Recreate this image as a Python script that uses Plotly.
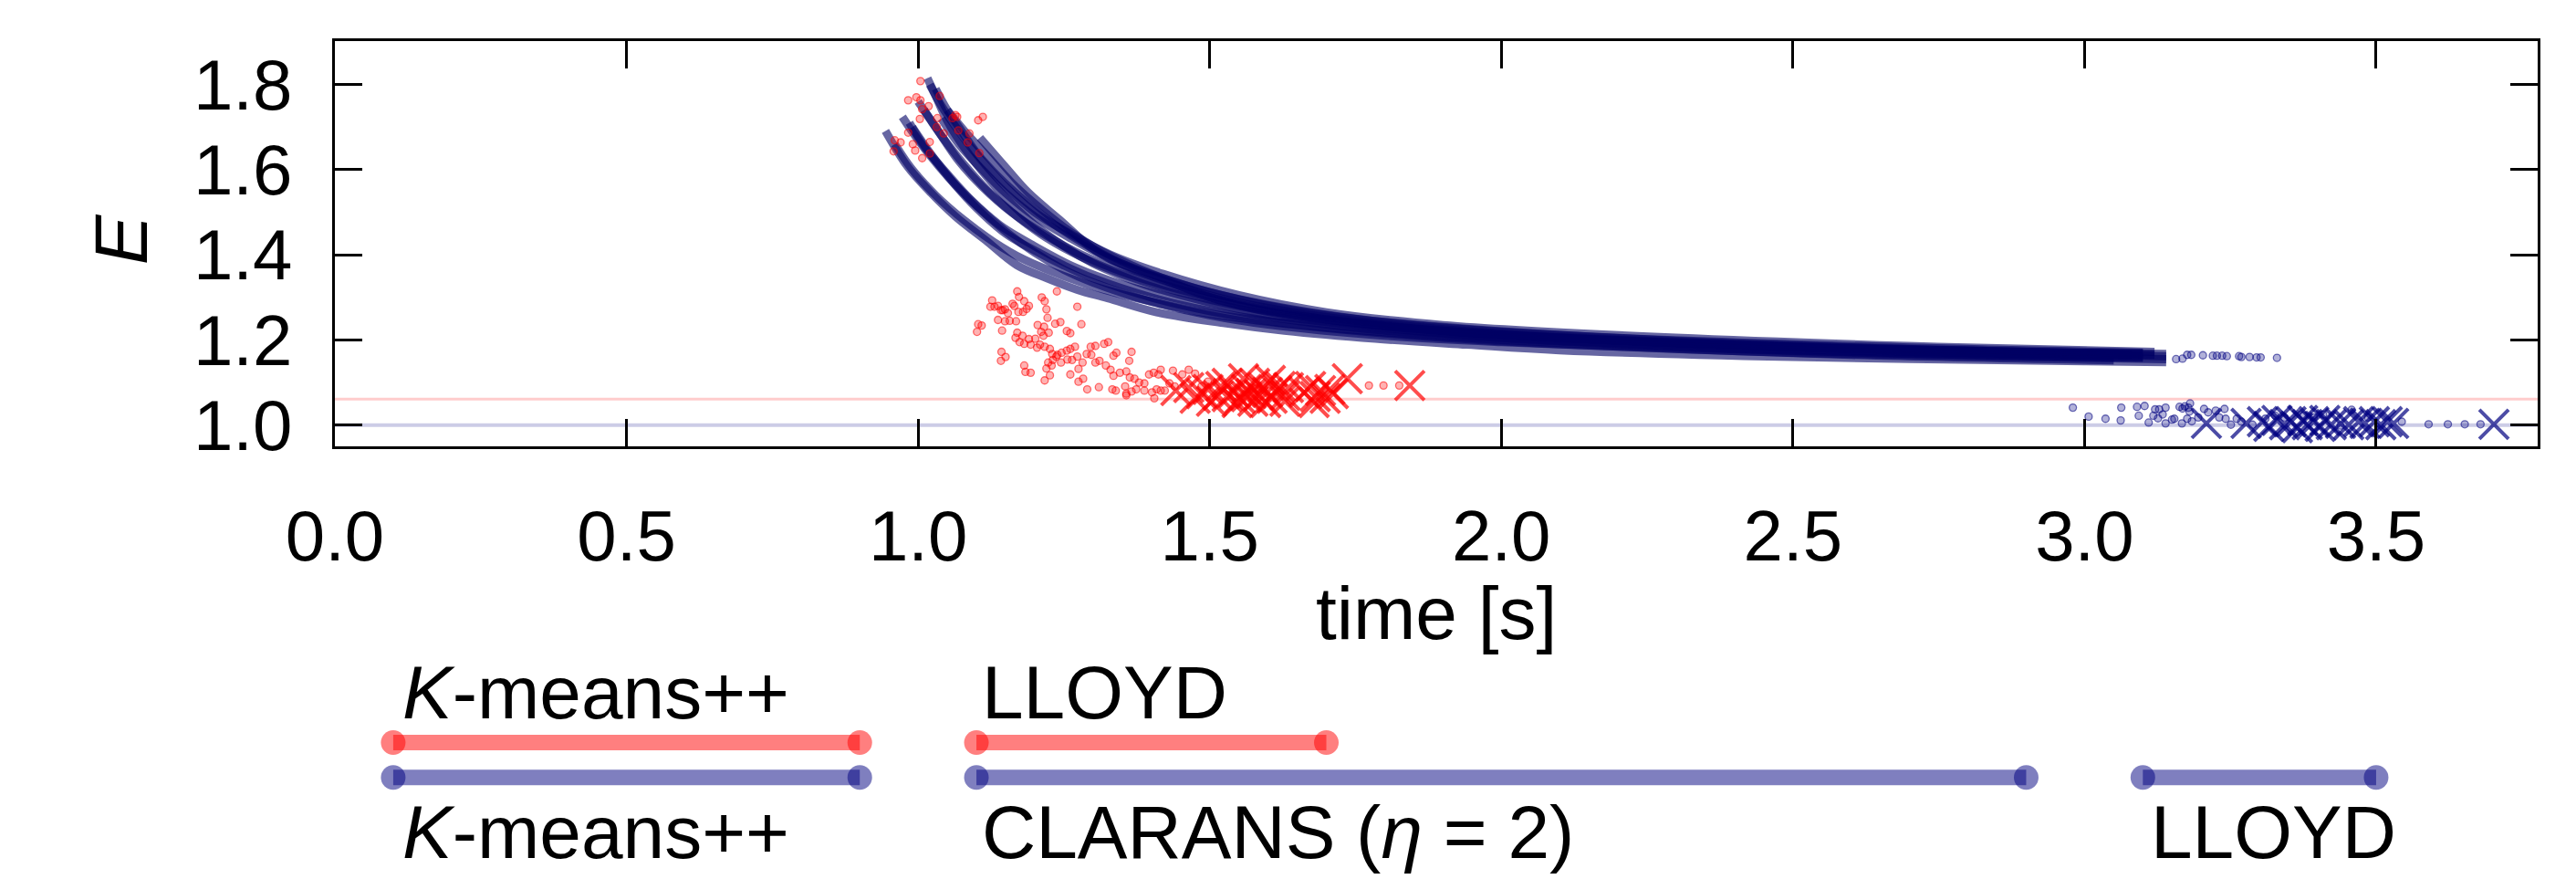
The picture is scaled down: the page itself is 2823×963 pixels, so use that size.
import plotly.graph_objects as go

# ---------------- data ----------------
x_ticks = [0.0, 0.5, 1.0, 1.5, 2.0, 2.5, 3.0, 3.5]
y_ticks = [1.0, 1.2, 1.4, 1.6, 1.8]

# CLARANS trajectories (navy)
navy_strands_x = [
    [0.944, 0.981, 1.012, 1.064, 1.116, 1.169, 1.221, 1.273, 1.325, 1.409, 1.523, 1.628, 1.784, 1.941, 2.10, 2.50, 3.00, 3.14],
    [0.973, 1.00, 1.05, 1.10, 1.15, 1.20, 1.25, 1.30, 1.40, 1.50, 1.60, 1.80, 2.00, 2.50, 3.00, 3.14],
    [1.016, 1.029, 1.05, 1.08, 1.12, 1.16, 1.20, 1.25, 1.30, 1.35, 1.40, 1.50, 1.60, 1.80, 2.00, 2.50, 3.00, 3.14],
    [1.106, 1.148, 1.189, 1.242, 1.304, 1.367, 1.419, 1.471, 1.523, 1.628, 1.784, 1.941, 2.10, 2.50, 3.00, 3.14],
    [0.99, 1.02, 1.06, 1.10, 1.15, 1.20, 1.25, 1.30, 1.40, 1.50, 1.60, 1.80, 2.00, 2.50, 3.00, 3.10],
    [1.01, 1.04, 1.08, 1.12, 1.17, 1.22, 1.28, 1.35, 1.45, 1.55, 1.70, 1.90, 2.20, 2.60, 3.05],
    [1.05, 1.08, 1.12, 1.16, 1.20, 1.25, 1.30, 1.35, 1.42, 1.50, 1.60, 1.75, 1.95, 2.30, 2.80, 3.10],
    [0.96, 0.99, 1.03, 1.08, 1.13, 1.18, 1.25, 1.32, 1.40, 1.50, 1.65, 1.85, 2.10, 2.60, 3.05],
    [1.03, 1.05, 1.07, 1.10, 1.14, 1.18, 1.23, 1.28, 1.34, 1.40, 1.50, 1.60, 1.75, 2.00, 2.40, 2.90, 3.12],
    [1.00, 1.03, 1.07, 1.11, 1.16, 1.22, 1.28, 1.35, 1.45, 1.60, 1.80, 2.10, 2.60, 3.08],
    [0.985, 1.01, 1.05, 1.09, 1.14, 1.20, 1.27, 1.35, 1.45, 1.60, 1.80, 2.10, 2.60, 3.10],
    [1.04, 1.07, 1.11, 1.15, 1.20, 1.26, 1.33, 1.42, 1.52, 1.65, 1.85, 2.15, 2.70, 3.10],
    [1.02, 1.04, 1.07, 1.11, 1.15, 1.20, 1.26, 1.33, 1.42, 1.55, 1.70, 1.90, 2.30, 2.80, 3.12],
]
navy_strands_y = [
    [1.691, 1.609, 1.560, 1.490, 1.434, 1.376, 1.345, 1.318, 1.298, 1.265, 1.240, 1.222, 1.203, 1.189, 1.176, 1.160, 1.150, 1.148],
    [1.724, 1.670, 1.585, 1.515, 1.455, 1.405, 1.365, 1.335, 1.290, 1.258, 1.236, 1.210, 1.195, 1.170, 1.158, 1.155],
    [1.815, 1.777, 1.715, 1.650, 1.580, 1.520, 1.470, 1.420, 1.380, 1.350, 1.325, 1.288, 1.260, 1.228, 1.205, 1.178, 1.165, 1.162],
    [1.675, 1.609, 1.546, 1.483, 1.410, 1.366, 1.343, 1.315, 1.291, 1.259, 1.235, 1.217, 1.205, 1.183, 1.170, 1.167],
    [1.700, 1.640, 1.570, 1.510, 1.450, 1.410, 1.375, 1.345, 1.300, 1.268, 1.245, 1.218, 1.200, 1.174, 1.160, 1.158],
    [1.740, 1.680, 1.610, 1.550, 1.490, 1.440, 1.395, 1.355, 1.312, 1.280, 1.248, 1.222, 1.198, 1.178, 1.166],
    [1.740, 1.690, 1.630, 1.570, 1.520, 1.465, 1.420, 1.385, 1.345, 1.312, 1.282, 1.250, 1.225, 1.198, 1.175, 1.168],
    [1.660, 1.600, 1.540, 1.480, 1.430, 1.390, 1.350, 1.318, 1.290, 1.262, 1.235, 1.210, 1.190, 1.165, 1.152],
    [1.790, 1.740, 1.700, 1.640, 1.580, 1.530, 1.475, 1.430, 1.385, 1.350, 1.305, 1.275, 1.245, 1.215, 1.190, 1.172, 1.165],
    [1.760, 1.700, 1.620, 1.560, 1.500, 1.445, 1.400, 1.360, 1.318, 1.270, 1.232, 1.205, 1.180, 1.165],
    [1.710, 1.655, 1.590, 1.530, 1.470, 1.420, 1.370, 1.330, 1.295, 1.255, 1.222, 1.196, 1.172, 1.160],
    [1.720, 1.660, 1.600, 1.545, 1.490, 1.440, 1.390, 1.345, 1.305, 1.268, 1.235, 1.208, 1.182, 1.170],
    [1.800, 1.750, 1.690, 1.620, 1.560, 1.500, 1.450, 1.400, 1.355, 1.305, 1.265, 1.235, 1.205, 1.182, 1.172],
]

# sparse tail of the CLARANS runs
navy_tail_x = [3.157, 3.168, 3.176, 3.183, 3.203, 3.220, 3.227, 3.236, 3.244, 3.265, 3.269, 3.283, 3.295, 3.302, 3.330]
navy_tail_y = [1.155, 1.156, 1.165, 1.165, 1.164, 1.163, 1.163, 1.163, 1.162, 1.162, 1.160, 1.160, 1.159, 1.159, 1.158]

# LLOYD after CLARANS (navy dots)
navy_lloyd_x = [2.980, 3.007, 3.036, 3.063, 3.062, 3.090, 3.103, 3.093, 3.110, 3.121, 3.128, 3.139, 3.118, 3.126,
                3.134, 3.139, 3.150, 3.154, 3.163, 3.168, 3.172, 3.178, 3.180, 3.181, 3.167, 3.176, 3.184, 3.195,
                3.205, 3.212, 3.225, 3.240, 3.231, 3.242, 3.251, 3.261, 3.269, 3.288, 3.310, 3.327, 3.343, 3.376,
                3.393, 3.409, 3.458, 3.439, 3.486, 3.544, 3.590, 3.623, 3.652, 3.679]
navy_lloyd_y = [1.041, 1.020, 1.015, 1.041, 1.011, 1.043, 1.045, 1.022, 1.006, 1.037, 1.037, 1.041, 1.022, 1.016,
                1.025, 1.004, 1.013, 1.015, 1.043, 1.039, 1.044, 1.041, 1.032, 1.051, 1.004, 1.015, 1.009, 1.018,
                1.038, 1.030, 1.034, 1.038, 1.018, 1.015, 1.001, 1.015, 1.008, 1.001, 1.015, 1.022, 1.018, 1.022,
                1.018, 1.025, 1.036, 0.999, 1.018, 1.008, 1.002, 1.002, 1.002, 1.002]

# final results (navy crosses)
navy_final_x = [3.209, 3.277, 3.305, 3.316, 3.330, 3.343, 3.354, 3.365, 3.374, 3.382, 3.393, 3.404, 3.412, 3.423,
                3.439, 3.453, 3.470, 3.481, 3.497, 3.508, 3.519, 3.530, 3.702]
navy_final_y = [1.004, 1.004, 1.008, 0.997, 1.011, 1.001, 1.008, 0.994, 1.011, 1.001, 1.008, 0.997, 1.011, 1.001,
                1.004, 1.001, 1.008, 1.004, 1.008, 1.001, 1.008, 1.004, 1.002]

# LLOYD after K-means++ (red dots)
red_dots_x = [1.004, 0.983, 0.997, 1.004, 1.037, 1.018, 1.007, 1.064, 1.059, 1.067, 1.111, 1.103, 1.003, 1.033, 0.983,
              0.960, 0.970, 0.958, 0.991, 0.995, 1.020, 1.007, 1.088, 1.085, 1.105, 1.069, 1.032, 1.044, 1.020,
              1.101, 1.103, 1.109, 1.127, 1.124, 1.131, 1.137, 1.142, 1.145, 1.149, 1.154, 1.162, 1.165, 1.170,
              1.173, 1.182, 1.190, 1.180, 1.172, 1.186, 1.137, 1.149, 1.157, 1.168, 1.144, 1.170, 1.179, 1.167,
              1.174, 1.182, 1.190, 1.193, 1.201, 1.204, 1.212, 1.217, 1.220, 1.222, 1.216, 1.211, 1.215, 1.224,
              1.205, 1.209, 1.217, 1.226, 1.230, 1.237, 1.223, 1.220, 1.231, 1.239, 1.246, 1.255, 1.261, 1.269,
              1.238, 1.235, 1.244, 1.255, 1.261, 1.273, 1.280, 1.143, 1.150, 1.142, 1.182, 1.184, 1.193, 1.217,
              1.226, 1.229, 1.245, 1.256, 1.264, 1.273, 1.282, 1.289, 1.297, 1.304, 1.311, 1.296, 1.304, 1.319,
              1.326, 1.335, 1.340, 1.366, 1.362, 1.322, 1.330, 1.335, 1.346, 1.357, 1.363, 1.371, 1.379, 1.275,
              1.261, 1.275, 1.283, 1.290, 1.310, 1.333, 1.339, 1.355, 1.357, 1.366, 1.374, 1.388, 1.396, 1.404,
              1.412, 1.416, 1.437, 1.388, 1.401, 1.409, 1.416, 1.423, 1.431, 1.440, 1.453, 1.464, 1.475, 1.486,
              1.497, 1.773, 1.798, 1.825, 1.405, 1.357]
red_dots_y = [1.808, 1.763, 1.770, 1.763, 1.773, 1.749, 1.742, 1.728, 1.721, 1.724, 1.724, 1.716, 1.719, 1.721, 1.687,
              1.669, 1.664, 1.643, 1.660, 1.645, 1.638, 1.627, 1.685, 1.664, 1.639, 1.692, 1.700, 1.685, 1.665,
              1.219, 1.237, 1.234, 1.293, 1.278, 1.278, 1.280, 1.270, 1.270, 1.272, 1.263, 1.285, 1.280, 1.314,
              1.301, 1.291, 1.280, 1.266, 1.266, 1.273, 1.247, 1.244, 1.245, 1.244, 1.222, 1.217, 1.210, 1.205,
              1.195, 1.191, 1.202, 1.189, 1.203, 1.182, 1.300, 1.291, 1.272, 1.252, 1.231, 1.219, 1.210, 1.217,
              1.235, 1.189, 1.184, 1.179, 1.167, 1.161, 1.147, 1.133, 1.153, 1.165, 1.170, 1.175, 1.179, 1.184,
              1.314, 1.238, 1.242, 1.221, 1.216, 1.278, 1.237, 1.172, 1.160, 1.151, 1.140, 1.125, 1.123, 1.105,
              1.117, 1.140, 1.147, 1.154, 1.153, 1.161, 1.147, 1.167, 1.165, 1.147, 1.151, 1.184, 1.186, 1.191,
              1.195, 1.163, 1.170, 1.172, 1.151, 1.140, 1.130, 1.116, 1.123, 1.126, 1.112, 1.109, 1.100, 1.132,
              1.119, 1.102, 1.109, 1.084, 1.089, 1.084, 1.081, 1.091, 1.074, 1.079, 1.084, 1.098, 1.119, 1.123,
              1.119, 1.130, 1.128, 1.081, 1.077, 1.084, 1.081, 1.081, 1.098, 1.091, 1.119, 1.130, 1.121, 1.091,
              1.102, 1.093, 1.093, 1.093, 1.063, 1.070]

# final results (red crosses)
red_final_x = [1.442, 1.464, 1.486, 1.497, 1.514, 1.519, 1.530, 1.541, 1.552, 1.558, 1.563, 1.571, 1.577, 1.585,
               1.591, 1.599, 1.604, 1.607, 1.615, 1.621, 1.629, 1.635, 1.662, 1.673, 1.681, 1.690, 1.698, 1.706,
               1.712, 1.736, 1.843, 1.475, 1.503, 1.547, 1.574, 1.596, 1.629, 1.679, 1.530, 1.563]
red_final_y = [1.081, 1.088, 1.074, 1.084, 1.070, 1.091, 1.098, 1.077, 1.063, 1.109, 1.084, 1.074, 1.098, 1.070,
               1.088, 1.077, 1.105, 1.063, 1.081, 1.091, 1.070, 1.088, 1.077, 1.091, 1.067, 1.081, 1.063, 1.084,
               1.074, 1.109, 1.093, 1.063, 1.056, 1.053, 1.056, 1.053, 1.056, 1.053, 1.067, 1.067]

# reference levels
red_level = 1.061
navy_level = 1.0

# timeline segments [start, end] in seconds
red_segments = [[0.1, 0.9], [1.1, 1.7]]
navy_segments = [[0.1, 0.9], [1.1, 2.9], [3.1, 3.5]]
red_labels = [(0.112, "<i>K</i>-means++"), (1.106, "LLOYD")]
navy_labels = [(0.112, "<i>K</i>-means++"), (1.106, "CLARANS (<i>η</i> = 2)"), (3.111, "LLOYD")]

X_RANGE = [0.0, 3.777]
Y_RANGE = [0.95, 1.902]

NAVY = "0,0,128"
RED = "255,0,0"
FONT = "Liberation Sans"

fig = go.Figure()

# reference lines
fig.add_trace(go.Scatter(x=X_RANGE, y=[navy_level, navy_level], mode="lines",
                         line=dict(color=f"rgba({NAVY},0.2)", width=4), hoverinfo="skip"))
fig.add_trace(go.Scatter(x=X_RANGE, y=[red_level, red_level], mode="lines",
                         line=dict(color=f"rgba({RED},0.2)", width=3), hoverinfo="skip"))

# CLARANS strands
for xs, ys in zip(navy_strands_x, navy_strands_y):
    fig.add_trace(go.Scatter(x=xs, y=ys, mode="lines", line_shape="spline",
                             line=dict(color="rgba(0,0,100,0.6)", width=9), hoverinfo="skip"))

dot_style = lambda c: dict(size=8, color=f"rgba({c},0.3)", line=dict(color=f"rgba({c},0.55)", width=1.3))

fig.add_trace(go.Scatter(x=navy_tail_x, y=navy_tail_y, mode="markers", marker=dot_style(NAVY)))
fig.add_trace(go.Scatter(x=navy_lloyd_x, y=navy_lloyd_y, mode="markers", marker=dot_style(NAVY)))
fig.add_trace(go.Scatter(x=red_dots_x, y=red_dots_y, mode="markers", marker=dot_style(RED)))

x_style = lambda c: dict(symbol="x-thin", size=32, color=f"rgba({c},0.7)",
                         line=dict(color=f"rgba({c},0.7)", width=4))
fig.add_trace(go.Scatter(x=red_final_x, y=red_final_y, mode="markers", marker=x_style(RED)))
fig.add_trace(go.Scatter(x=navy_final_x, y=navy_final_y, mode="markers", marker=x_style(NAVY)))

# timeline (second y axis)
def seg_xy(segs, level):
    xs, ys = [], []
    for a, b in segs:
        xs += [a, b, None]
        ys += [level, level, None]
    return xs, ys

for segs, level, c in [(red_segments, 1, RED), (navy_segments, 0, NAVY)]:
    xs, ys = seg_xy(segs, level)
    fig.add_trace(go.Scatter(x=xs, y=ys, xaxis="x2", yaxis="y2", mode="lines+markers",
                             line=dict(color=f"rgba({c},0.5)", width=17),
                             marker=dict(size=27, color=f"rgba({c},0.5)", line=dict(width=0)),
                             hoverinfo="skip"))

ann = []
for x0, t in red_labels:
    ann.append(dict(x=x0, y=2.43, xref="x2", yref="y2", text=t, showarrow=False,
                    xanchor="left", yanchor="middle", font=dict(size=82, color="black", family=FONT)))
for x0, t in navy_labels:
    ann.append(dict(x=x0, y=-1.57, xref="x2", yref="y2", text=t, showarrow=False,
                    xanchor="left", yanchor="middle", font=dict(size=82, color="black", family=FONT)))
ann.append(dict(x=-0.0973, y=0.7576, xref="paper", yref="paper", text="<i>E</i>", showarrow=False,
                textangle=-90, xanchor="center", yanchor="middle", font=dict(size=82, color="black", family=FONT)))
ann.append(dict(x=0.5, y=0.301, xref="paper", yref="paper", text="time [s]", showarrow=False,
                xanchor="center", yanchor="middle", font=dict(size=82, color="black", family=FONT)))

axis_common = dict(showgrid=False, zeroline=False, showline=True, linecolor="black", linewidth=3,
                   ticks="inside", ticklen=30, tickwidth=3, tickcolor="black", mirror="ticks",
                   tickfont=dict(size=78, color="black", family=FONT))

fig.update_layout(
    width=2823, height=963,
    margin=dict(l=359, r=50, t=37, b=10),
    paper_bgcolor="white", plot_bgcolor="white",
    showlegend=False,
    annotations=ann,
    xaxis=dict(range=X_RANGE, tickvals=x_ticks, ticktext=[f"{v:.1f}" for v in x_ticks],
               anchor="y", ticklabelstandoff=28, **axis_common),
    yaxis=dict(range=Y_RANGE, tickvals=y_ticks, ticktext=[f"{v:.1f}" for v in y_ticks],
               domain=[0.5044, 1.0], anchor="x", ticklabelstandoff=28, **axis_common),
    xaxis2=dict(range=X_RANGE, matches="x", anchor="y2", visible=False),
    yaxis2=dict(range=[-2.34, 7.05], domain=[0.0, 0.4], anchor="x2", visible=False),
)

fig.write_html("out.html", config={"displayModeBar": False})
